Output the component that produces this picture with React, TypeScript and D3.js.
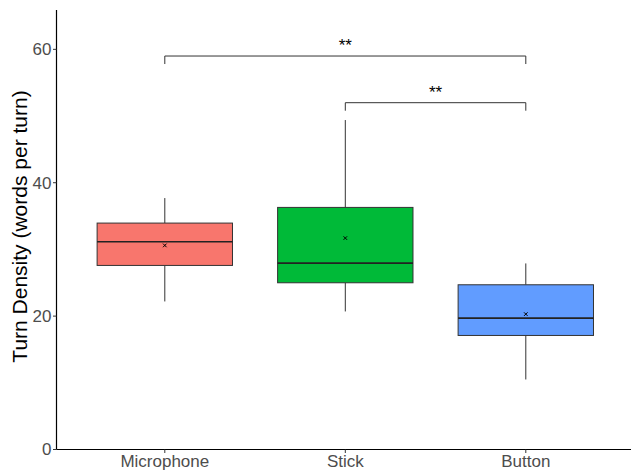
import React from "react";
import * as d3 from "d3";

const categories = ["Microphone", "Stick", "Button"];
const colors = ["#F8766D", "#00BA38", "#619CFF"];
const whiskerLow = [22.2, 20.7, 10.5];
const q1 = [27.6, 25.0, 17.1];
const median = [31.15, 27.95, 19.7];
const q3 = [33.95, 36.3, 24.7];
const whiskerHigh = [37.7, 49.4, 27.9];
const means = [30.6, 31.7, 20.3];
const yTicks = [0, 20, 40, 60];

const brackets = [
  { from: "Microphone", to: "Button", y: 59.0, tipY: 57.8, label: "**" },
  { from: "Stick", to: "Button", y: 52.0, tipY: 50.8, label: "**" },
];

const W = 631;
const H = 471;

export default function App() {
  const x = d3.scalePoint<string>().domain(categories).range([56.5, 634.1]).padding(0.6);
  const step = x.step();
  const boxW = step * 0.75;
  const y = d3.scaleLinear().domain([0, 65.9]).range([449.5, 10]);
  const font = "'Liberation Sans', Arial, sans-serif";
  const ax = 56.5;
  const ay = 449.5;

  return (
    <svg
      width={W}
      height={H}
      style={{ position: "absolute", left: 0, top: 0, background: "#fff" }}
      fontFamily={font}
    >
      <rect width={W} height={H} fill="#fff" />
      {categories.map((c, i) => {
        const cx = x(c)!;
        return (
          <g key={c}>
            <line x1={cx} x2={cx} y1={y(whiskerHigh[i])} y2={y(q3[i])} stroke="#333" strokeWidth={1} />
            <line x1={cx} x2={cx} y1={y(q1[i])} y2={y(whiskerLow[i])} stroke="#333" strokeWidth={1} />
            <rect
              x={cx - boxW / 2}
              y={y(q3[i])}
              width={boxW}
              height={y(q1[i]) - y(q3[i])}
              fill={colors[i]}
              stroke="#333"
              strokeWidth={1}
            />
            <line
              x1={cx - boxW / 2}
              x2={cx + boxW / 2}
              y1={y(median[i])}
              y2={y(median[i])}
              stroke="#222"
              strokeWidth={1.6}
            />
            <g stroke="#000" strokeWidth={1}>
              <line x1={cx - 1.8} x2={cx + 1.8} y1={y(means[i]) - 1.8} y2={y(means[i]) + 1.8} />
              <line x1={cx - 1.8} x2={cx + 1.8} y1={y(means[i]) + 1.8} y2={y(means[i]) - 1.8} />
            </g>
          </g>
        );
      })}
      {brackets.map((b, i) => {
        const x1 = x(b.from)!;
        const x2 = x(b.to)!;
        return (
          <g key={i}>
            <path
              d={`M${x1},${y(b.tipY)}V${y(b.y)}H${x2}V${y(b.tipY)}`}
              fill="none"
              stroke="#333"
              strokeWidth={1}
            />
            <text x={(x1 + x2) / 2} y={y(b.y) - 5} textAnchor="middle" fontSize={17} fill="#000">
              {b.label}
            </text>
          </g>
        );
      })}
      {/* axes */}
      <line x1={ax} x2={ax} y1={10} y2={ay} stroke="#000" strokeWidth={1.2} />
      <line x1={ax} x2={W} y1={ay} y2={ay} stroke="#000" strokeWidth={1.2} />
      {yTicks.map((t) => (
        <g key={t}>
          <line x1={ax - 3.5} x2={ax} y1={y(t)} y2={y(t)} stroke="#333" />
          <text x={ax - 5} y={y(t)} dy="0.35em" textAnchor="end" fontSize={17} fill="#4D4D4D">
            {t}
          </text>
        </g>
      ))}
      {categories.map((c) => (
        <g key={c}>
          <line x1={x(c)!} x2={x(c)!} y1={ay} y2={ay + 3.5} stroke="#333" />
          <text x={x(c)!} y={ay + 17} textAnchor="middle" fontSize={17} fill="#4D4D4D">
            {c}
          </text>
        </g>
      ))}
      <text
        transform={`translate(27,226.5) rotate(-90)`}
        textAnchor="middle"
        fontSize={21}
        fill="#000"
      >
        Turn Density (words per turn)
      </text>
    </svg>
  );
}
